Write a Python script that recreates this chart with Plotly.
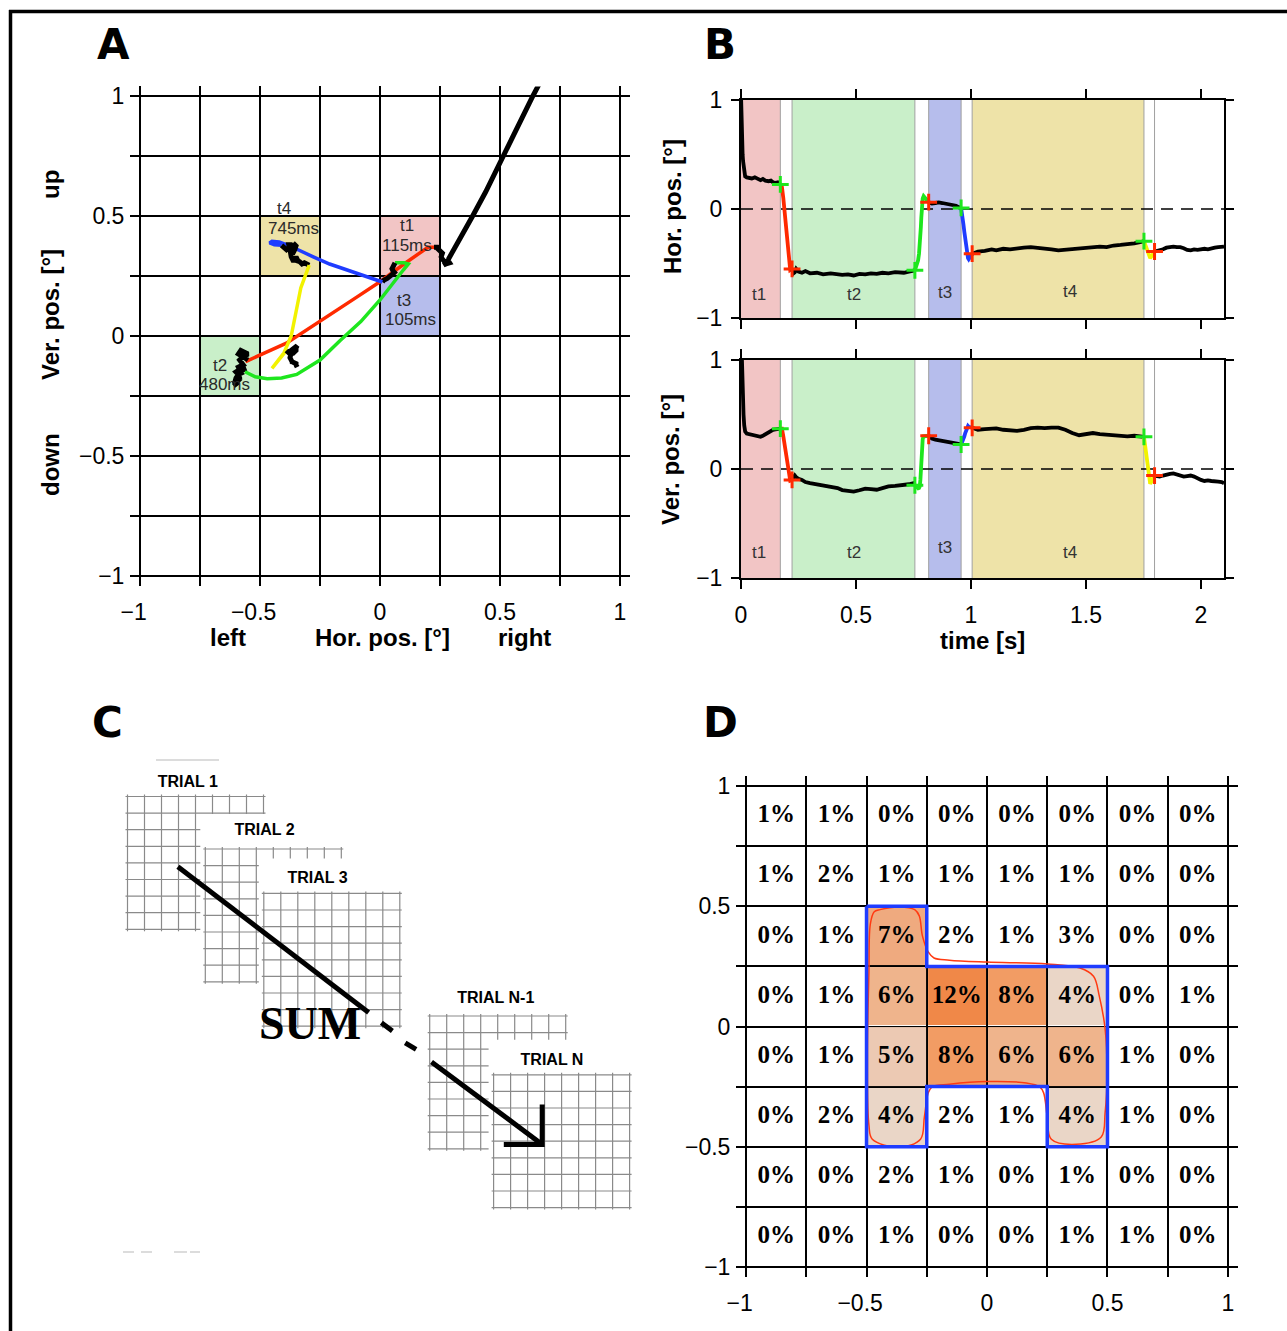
import plotly.graph_objects as go

W, H = 1287, 1331

# ---------------- Eye-position recording (time s, hor/ver position deg) ----------------
fix1_t = [0.000, 0.002, 0.003, 0.005, 0.007, 0.009, 0.011, 0.014, 0.018, 0.025, 0.035, 0.047,
          0.060, 0.072, 0.085, 0.095, 0.106, 0.120, 0.130, 0.139, 0.150, 0.160, 0.171]
fix1_hor = [1.05, 0.70, 0.637, 0.56, 0.50, 0.44, 0.386, 0.33, 0.30, 0.29, 0.285, 0.28,
            0.29, 0.275, 0.265, 0.275, 0.26, 0.255, 0.26, 0.245, 0.24, 0.245, 0.225]
fix1_ver = [1.30, 1.12, 1.00, 0.84, 0.72, 0.60, 0.50, 0.40, 0.345, 0.325, 0.32, 0.32,
            0.305, 0.30, 0.296, 0.305, 0.32, 0.33, 0.345, 0.36, 0.364, 0.37, 0.37]

sac1_t = [0.171, 0.178, 0.184, 0.189, 0.193, 0.197, 0.201, 0.205, 0.209, 0.214, 0.222]
sac1_hor = [0.225, 0.20, 0.10, 0.00, -0.10, -0.21, -0.30, -0.39, -0.48, -0.56, -0.55]
sac1_ver = [0.37, 0.37, 0.30, 0.226, 0.16, 0.0875, 0.025, -0.03, -0.07, -0.107, -0.10]

fix2_t = [0.222, 0.228, 0.234, 0.240, 0.250, 0.265, 0.280, 0.300, 0.330, 0.357, 0.390, 0.420, 0.440,
          0.465, 0.490, 0.515, 0.540, 0.565, 0.590, 0.615, 0.641, 0.670, 0.708, 0.730, 0.750, 0.756]
fix2_hor = [-0.55, -0.59, -0.58, -0.55, -0.575, -0.585, -0.57, -0.59, -0.585, -0.60, -0.59, -0.60, -0.605,
            -0.60, -0.61, -0.595, -0.60, -0.59, -0.595, -0.585, -0.59, -0.58, -0.585, -0.575, -0.57, -0.5625]
fix2_ver = [-0.10, -0.075, -0.06, -0.075, -0.09, -0.10, -0.12, -0.13, -0.14, -0.15, -0.16, -0.175, -0.193,
            -0.20, -0.208, -0.195, -0.18, -0.185, -0.19, -0.175, -0.16, -0.155, -0.15, -0.14, -0.13, -0.149]

sac2_t = [0.756, 0.764, 0.770, 0.774, 0.777, 0.780, 0.782, 0.784, 0.786, 0.788, 0.790, 0.794, 0.802, 0.816]
sac2_hor = [-0.5625, -0.52, -0.47, -0.41, -0.347, -0.25, -0.167, -0.08, 0.00, 0.06, 0.097, 0.118, 0.10, 0.0625]
sac2_ver = [-0.149, -0.17, -0.178, -0.175, -0.16, -0.10, -0.02, 0.06, 0.15, 0.23, 0.275, 0.30, 0.305, 0.305]

fix3_t = [0.816, 0.830, 0.845, 0.860, 0.875, 0.890, 0.905, 0.920, 0.935, 0.948, 0.957]
fix3_hor = [0.0625, 0.05, 0.055, 0.06, 0.055, 0.05, 0.045, 0.035, 0.03, 0.015, 0.01]
fix3_ver = [0.305, 0.28, 0.27, 0.265, 0.26, 0.255, 0.25, 0.245, 0.24, 0.232, 0.225]

sac3_t = [0.957, 0.963, 0.967, 0.971, 0.975, 0.978, 0.981, 0.984, 0.987, 0.990, 0.997, 1.005]
sac3_hor = [0.01, -0.06, -0.139, -0.21, -0.278, -0.33, -0.375, -0.42, -0.45, -0.46, -0.44, -0.41]
sac3_ver = [0.225, 0.25, 0.275, 0.30, 0.33, 0.355, 0.375, 0.392, 0.395, 0.388, 0.38, 0.378]

fix4_t = [1.005, 1.03, 1.06, 1.09, 1.11, 1.14, 1.17, 1.20, 1.23, 1.26, 1.29, 1.32, 1.35, 1.38,
          1.41, 1.44, 1.47, 1.50, 1.53, 1.56, 1.59, 1.62, 1.65, 1.68, 1.71, 1.735, 1.752]
fix4_hor = [-0.41, -0.39, -0.385, -0.37, -0.38, -0.365, -0.37, -0.36, -0.355, -0.35, -0.355, -0.36, -0.37, -0.38,
            -0.375, -0.37, -0.36, -0.355, -0.35, -0.345, -0.35, -0.335, -0.33, -0.325, -0.315, -0.305, -0.295]
fix4_ver = [0.378, 0.36, 0.365, 0.37, 0.373, 0.36, 0.355, 0.35, 0.36, 0.375, 0.38, 0.375, 0.38, 0.38,
            0.36, 0.33, 0.31, 0.32, 0.33, 0.32, 0.315, 0.31, 0.305, 0.30, 0.305, 0.30, 0.295]

sac4_t = [1.752, 1.758, 1.763, 1.768, 1.773, 1.779, 1.789, 1.798]
sac4_hor = [-0.295, -0.33, -0.35, -0.37, -0.40, -0.45, -0.42, -0.39]
sac4_ver = [0.295, 0.20, 0.10, 0.00, -0.07, -0.135, -0.10, -0.06]

fix5_t = [1.798, 1.82, 1.835, 1.85, 1.865, 1.88, 1.895, 1.91, 1.925, 1.94, 1.955,
          1.97, 1.985, 2.0, 2.015, 2.03, 2.045, 2.06, 2.075, 2.09, 2.1]
fix5_hor = [-0.39, -0.38, -0.37, -0.355, -0.35, -0.345, -0.35, -0.35, -0.36, -0.375, -0.38,
            -0.37, -0.375, -0.37, -0.365, -0.37, -0.36, -0.355, -0.35, -0.35, -0.345]
fix5_ver = [-0.06, -0.07, -0.06, -0.05, -0.045, -0.04, -0.05, -0.06, -0.07, -0.065, -0.06,
            -0.07, -0.09, -0.10, -0.11, -0.105, -0.11, -0.11, -0.115, -0.12, -0.13]

period_names = ["t1", "t2", "t3", "t4"]
period_ms = ["115ms", "480ms", "105ms", "745ms"]
# target squares in panel A (lower-left corner, deg) for t1..t4
box_x0 = [0.0, -0.75, 0.0, -0.5]
box_y0 = [0.25, -0.25, 0.0, 0.25]
box_size = 0.25

# ---------------- Panel D: percentage of time per grid cell ----------------
d_centers = [-0.875, -0.625, -0.375, -0.125, 0.125, 0.375, 0.625, 0.875]
d_pct = [
    [1, 1, 0, 0, 0, 0, 0, 0],
    [1, 2, 1, 1, 1, 1, 0, 0],
    [0, 1, 7, 2, 1, 3, 0, 0],
    [0, 1, 6, 12, 8, 4, 0, 1],
    [0, 1, 5, 8, 6, 6, 1, 0],
    [0, 2, 4, 2, 1, 4, 1, 0],
    [0, 0, 2, 1, 0, 1, 0, 0],
    [0, 0, 1, 0, 0, 1, 1, 0],
]
d_roi = [
    [0, 0, 0, 0, 0, 0, 0, 0],
    [0, 0, 0, 0, 0, 0, 0, 0],
    [0, 0, 1, 0, 0, 0, 0, 0],
    [0, 0, 1, 1, 1, 1, 0, 0],
    [0, 0, 1, 1, 1, 1, 0, 0],
    [0, 0, 1, 0, 0, 1, 0, 0],
    [0, 0, 0, 0, 0, 0, 0, 0],
    [0, 0, 0, 0, 0, 0, 0, 0],
]
roi_x = [-0.5, -0.25, -0.25, 0.5, 0.5, 0.25, 0.25, -0.25, -0.25, -0.5, -0.5]
roi_y = [0.5, 0.5, 0.25, 0.25, -0.5, -0.5, -0.25, -0.25, -0.5, -0.5, 0.5]
contour_x = [-0.444, -0.364, -0.30, -0.281, -0.268, -0.244, -0.22, -0.156, 0.0, 0.25, 0.386, 0.442,
             0.466, 0.49, 0.498, 0.49, 0.474, 0.37, 0.267, 0.25, 0.235, 0.219, 0.163, 0.0, -0.156,
             -0.228, -0.244, -0.26, -0.276, -0.364, -0.476, -0.49, -0.496, -0.49, -0.484, -0.468, -0.444]
contour_y = [0.486, 0.497, 0.486, 0.46, 0.377, 0.31, 0.285, 0.276, 0.268, 0.26, 0.243, 0.209,
             0.126, -0.008, -0.193, -0.36, -0.46, -0.49, -0.469, -0.377, -0.276, -0.251, -0.235, -0.229, -0.24,
             -0.251, -0.276, -0.377, -0.469, -0.502, -0.469, -0.41, -0.109, 0.226, 0.427, 0.477, 0.486]

# ---------------- Panel C: schematic (pixel coordinates) ----------------
trial_names = ["TRIAL 1", "TRIAL 2", "TRIAL 3", "TRIAL N-1", "TRIAL N"]
trial_left = [127.5, 205.3, 263.8, 429.7, 493.6]
trial_top = [796.5, 849.0, 893.4, 1016.0, 1074.8]
trial_label_x = [187.8, 264.5, 317.5, 495.8, 552.0]
trial_label_y = [783.2, 830.7, 879.0, 998.7, 1060.7]
n_cells = 8
cell_w, cell_h = 17.0, 16.6
sum_line_x = [177.9, 368.6]
sum_line_y = [866.8, 1012.4]
sum_dash_x = [381.4, 392.4, None, 405.2, 416.1]
sum_dash_y = [1022.7, 1031.0, None, 1042.8, 1049.3]
arrow_x = [431.5, 542.2, None, 542.2, 542.2, 503.8]
arrow_y = [1061.9, 1144.4, None, 1104.4, 1144.4, 1144.4]

# ---------------- styles ----------------
SANS = "Liberation Sans, Arial, sans-serif"
SERIF = "Liberation Serif, Times New Roman, serif"
C_RED, C_GREEN, C_BLUE, C_YEL = "#ff2a00", "#1ee61e", "#1f3cff", "#f2f200"
BOX_COLORS = ["#f2c5c5", "#c9efc9", "#b6bdec", "#eee3a8"]

segments = [
    (fix1_t, fix1_hor, fix1_ver, "black"),
    (sac1_t, sac1_hor, sac1_ver, C_RED),
    (fix2_t, fix2_hor, fix2_ver, "black"),
    (sac2_t, sac2_hor, sac2_ver, C_GREEN),
    (fix3_t, fix3_hor, fix3_ver, "black"),
    (sac3_t, sac3_hor, sac3_ver, C_BLUE),
    (fix4_t, fix4_hor, fix4_ver, "black"),
    (sac4_t, sac4_hor, sac4_ver, C_YEL),
    (fix5_t, fix5_hor, fix5_ver, "black"),
]
saccades = [s for s in segments if s[3] != "black"]

fig = go.Figure()

# ---------- Panel A ----------
for t, hx, vy, col in segments:
    fig.add_trace(go.Scatter(x=hx, y=vy, mode="lines", xaxis="x", yaxis="y",
                             line=dict(color=col, width=5 if col == "black" else 3.5),
                             hoverinfo="skip", showlegend=False))

# ---------- Panel B ----------
for row, (xa, ya) in enumerate([("x2", "y2"), ("x3", "y3")]):
    for t, hx, vy, col in segments:
        vals = hx if row == 0 else vy
        fig.add_trace(go.Scatter(x=t, y=vals, mode="lines", xaxis=xa, yaxis=ya,
                                 line=dict(color=col, width=3.8), hoverinfo="skip", showlegend=False))
    st_t = [s[0][0] for s in saccades]
    st_v = [(s[1] if row == 0 else s[2])[0] for s in saccades]
    en_t = [s[0][-1] for s in saccades]
    en_v = [(s[1] if row == 0 else s[2])[-1] for s in saccades]
    fig.add_trace(go.Scatter(x=st_t, y=st_v, mode="markers", xaxis=xa, yaxis=ya,
                             marker=dict(symbol="cross-thin", size=12, line=dict(color=C_GREEN, width=3)),
                             hoverinfo="skip", showlegend=False))
    fig.add_trace(go.Scatter(x=en_t, y=en_v, mode="markers", xaxis=xa, yaxis=ya,
                             marker=dict(symbol="cross-thin", size=12, line=dict(color=C_RED, width=3)),
                             hoverinfo="skip", showlegend=False))

# ---------- Panel C ----------
for i, name in enumerate(trial_names):
    L, T = trial_left[i], trial_top[i]
    R, B = L + n_cells * cell_w, T + n_cells * cell_h
    if i > 0:
        fig.add_trace(go.Scatter(x=[L - 5, R + 4, R + 4, L - 5, L - 5],
                                 y=[T - 35, T - 35, B + 4, B + 4, T - 35],
                                 mode="lines", fill="toself", fillcolor="white",
                                 line=dict(width=0, color="white"), xaxis="x4", yaxis="y4",
                                 hoverinfo="skip", showlegend=False))
    gx, gy = [], []
    for k in range(n_cells + 1):
        xk = L + k * cell_w
        gx += [xk, xk, None]
        gy += [T - 2, B + 2, None]
        yk = T + k * cell_h
        gx += [L - 2, R + 2, None]
        gy += [yk, yk, None]
    fig.add_trace(go.Scatter(x=gx, y=gy, mode="lines", xaxis="x4", yaxis="y4",
                             line=dict(color="#8a8a8a", width=1.2), hoverinfo="skip", showlegend=False))

fig.add_trace(go.Scatter(x=trial_label_x, y=trial_label_y, text=trial_names, mode="text",
                         textfont=dict(family=SANS, size=16, color="black", weight="bold"),
                         xaxis="x4", yaxis="y4", hoverinfo="skip", showlegend=False))
fig.add_trace(go.Scatter(x=[156, 219, None, 123, 134, None, 141, 152, None, 174, 187, None, 190, 200],
                         y=[760, 760, None, 1252, 1252, None, 1252, 1252, None, 1252, 1252, None, 1252, 1252],
                         mode="lines", line=dict(color="#d0d0d0", width=1.5), xaxis="x4", yaxis="y4",
                         hoverinfo="skip", showlegend=False))
for xs, ys in [(sum_line_x, sum_line_y), (sum_dash_x, sum_dash_y), (arrow_x, arrow_y)]:
    fig.add_trace(go.Scatter(x=xs, y=ys, mode="lines", xaxis="x4", yaxis="y4",
                             line=dict(color="black", width=5), hoverinfo="skip", showlegend=False))
fig.add_trace(go.Scatter(x=[310], y=[1027], text=["SUM"], mode="text",
                         textfont=dict(family=SERIF, size=46, color="black", weight="bold"),
                         xaxis="x4", yaxis="y4", hoverinfo="skip", showlegend=False))

# ---------- Panel D ----------
z_roi = [[d_pct[r][c] if d_roi[r][c] else None for c in range(8)] for r in range(8)]
fig.add_trace(go.Heatmap(x=d_centers, y=d_centers[::-1], z=z_roi, zmin=4, zmax=12,
                         colorscale=[[0, "#ead6c7"], [0.125, "#ecc9b3"], [0.25, "#efb48c"],
                                     [0.375, "#efaa7f"], [0.5, "#f29c64"], [1, "#f08848"]],
                         showscale=False, xgap=2, ygap=2, hoverinfo="skip", xaxis="x5", yaxis="y5"))
tx, ty, tt = [], [], []
for r in range(8):
    for c in range(8):
        tx.append(d_centers[c])
        ty.append(d_centers[::-1][r])
        tt.append(f"{d_pct[r][c]}%")
fig.add_trace(go.Scatter(x=tx, y=ty, text=tt, mode="text", xaxis="x5", yaxis="y5",
                         textfont=dict(family=SERIF, size=25, color="black", weight="bold"),
                         hoverinfo="skip", showlegend=False))
fig.add_trace(go.Scatter(x=contour_x, y=contour_y, mode="lines", line=dict(color="#ff3a12", width=1.5, shape="spline"),
                         xaxis="x5", yaxis="y5", hoverinfo="skip", showlegend=False))
fig.add_trace(go.Scatter(x=roi_x, y=roi_y, mode="lines", line=dict(color=C_BLUE, width=3.5),
                         xaxis="x5", yaxis="y5", hoverinfo="skip", showlegend=False))

# ---------- shapes ----------
shapes = []
for i in range(4):
    shapes.append(dict(type="rect", xref="x", yref="y", x0=box_x0[i], x1=box_x0[i] + box_size,
                       y0=box_y0[i], y1=box_y0[i] + box_size, fillcolor=BOX_COLORS[i],
                       line=dict(width=0), layer="below"))
band_start = [0.0] + [s[0][-1] for s in saccades[:3]]
band_end = [s[0][0] for s in saccades]
for xa, ya in [("x2", "y2"), ("x3", "y3")]:
    for i in range(4):
        shapes.append(dict(type="rect", xref=xa, yref=ya, x0=band_start[i], x1=band_end[i], y0=-1, y1=1,
                           fillcolor=BOX_COLORS[i], line=dict(width=0), layer="below"))
    for s in saccades:
        for tv in (s[0][0], s[0][-1]):
            shapes.append(dict(type="line", xref=xa, yref=ya, x0=tv, x1=tv, y0=-1, y1=1,
                               line=dict(color="#a0a0a0", width=1), layer="below"))
    shapes.append(dict(type="line", xref=xa, yref=ya, x0=0, x1=2.1, y0=0, y1=0,
                       line=dict(color="black", width=1.3, dash="12px,8px"), layer="below"))
# outer frame of the figure
shapes.append(dict(type="line", xref="paper", yref="paper", x0=10.5 / W, x1=10.5 / W, y0=0, y1=1 - 10 / H,
                   line=dict(color="black", width=3.5)))
shapes.append(dict(type="line", xref="paper", yref="paper", x0=9 / W, x1=1, y0=1 - 11.5 / H, y1=1 - 11.5 / H,
                   line=dict(color="black", width=3.5)))

# ---------- annotations ----------
ann = []
def pann(text, px, py, size, bold=False, angle=0, family=SANS, color="black"):
    ann.append(dict(text=f"<b>{text}</b>" if bold else text, x=px / W, y=1 - py / H, xref="paper", yref="paper",
                    showarrow=False, textangle=angle, xanchor="center", yanchor="middle",
                    font=dict(family=family, size=size, color=color)))

for letter, px, py in [("A", 113, 44), ("B", 720, 44), ("C", 107, 722), ("D", 720, 722)]:
    pann(letter, px, py, 42, bold=True, family="DejaVu Sans, sans-serif")
pann("Ver. pos. [°]", 50, 315, 24, bold=True, angle=-90)
pann("up", 50, 185, 24, bold=True, angle=-90)
pann("down", 50, 465, 24, bold=True, angle=-90)
pann("left", 228, 637, 24, bold=True)
pann("Hor. pos. [°]", 382, 637, 24, bold=True)
pann("right", 524, 637, 24, bold=True)
pann("Hor. pos. [°]", 672, 207, 24, bold=True, angle=-90)
pann("Ver. pos. [°]", 670, 460, 24, bold=True, angle=-90)
pann("time [s]", 982, 640, 24, bold=True)

a_name_xy = [(0.111, 0.4625), (-0.667, -0.121), (0.10, 0.15), (-0.40, 0.532)]
a_ms_xy = [(0.111, 0.379), (-0.646, -0.204), (0.125, 0.07), (-0.361, 0.449)]
for i in range(4):
    for (xx, yy), txt in [(a_name_xy[i], period_names[i]), (a_ms_xy[i], period_ms[i])]:
        ann.append(dict(text=txt, x=xx, y=yy, xref="x", yref="y", showarrow=False,
                        font=dict(family=SANS, size=17, color="#2a2a2a")))
b_label_x = [0.08, 0.49, 0.885, 1.43]
for xa, ya, yl in [("x2", "y2", [-0.78, -0.78, -0.77, -0.76]), ("x3", "y3", [-0.77, -0.77, -0.72, -0.77])]:
    for i in range(4):
        ann.append(dict(text=period_names[i], x=b_label_x[i], y=yl[i], xref=xa, yref=ya, showarrow=False,
                        font=dict(family=SANS, size=17, color="#333333")))

# ---------- axes ----------
grid_vals = [-1, -0.75, -0.5, -0.25, 0, 0.25, 0.5, 0.75, 1]
grid_text_y = ["−1", "", "−0.5", "", "0", "", "0.5", "", "1"]
NB = "\u00a0\u00a0"
grid_text_x = ["−1" + NB, "", "−0.5" + NB, "", "0", "", "0.5", "", "1"]
tickfont = dict(family=SANS, size=23, color="black")

def grid_axis(domain, anchor, standoff, labels):
    return dict(domain=domain, anchor=anchor, range=[-1.04, 1.04], tickvals=grid_vals, ticktext=labels,
                showgrid=True, gridcolor="black", gridwidth=2, zeroline=False, showline=False,
                ticks="", tickfont=tickfont, ticklabelstandoff=standoff, fixedrange=True, automargin=False)

def time_axis(domain, anchor, labels):
    return dict(domain=domain, anchor=anchor, range=[0, 2.1], tickvals=[0, 0.5, 1, 1.5, 2],
                ticktext=["0", "0.5", "1", "1.5", "2"], showticklabels=labels, ticks="outside",
                ticklen=9, tickwidth=2, tickcolor="black", showline=True, linecolor="black", linewidth=2,
                mirror="ticks", showgrid=False, zeroline=False, tickfont=tickfont, ticklabelstandoff=6,
                automargin=False)

def pos_axis(domain, anchor):
    return dict(domain=domain, anchor=anchor, range=[-1, 1], tickvals=[-1, 0, 1], ticktext=["−1", "0", "1"],
                ticks="outside", ticklen=8, tickwidth=2, tickcolor="black", showline=True, linecolor="black",
                linewidth=2, mirror="ticks", showgrid=False, zeroline=False, tickfont=tickfont,
                ticklabelstandoff=4, automargin=False)

fig.update_layout(
    width=W, height=H, autosize=False,
    margin=dict(l=0, r=0, t=0, b=0, pad=0, autoexpand=False),
    paper_bgcolor="white", plot_bgcolor="rgba(0,0,0,0)", showlegend=False,
    xaxis=grid_axis([130.4 / W, 629.6 / W], "y", 10, grid_text_x),
    yaxis=grid_axis([1 - 585.6 / H, 1 - 86.4 / H], "x", 5, grid_text_y),
    xaxis2=time_axis([741 / W, 1224 / W], "y2", False),
    yaxis2=pos_axis([1 - 318 / H, 1 - 100 / H], "x2"),
    xaxis3=time_axis([741 / W, 1224 / W], "y3", True),
    yaxis3=pos_axis([1 - 578 / H, 1 - 360 / H], "x3"),
    xaxis4=dict(domain=[0, 0.5], anchor="y4", range=[0, 643.5], visible=False, fixedrange=True),
    yaxis4=dict(domain=[0, 0.5], anchor="x4", range=[1331, 665.5], visible=False, fixedrange=True),
    xaxis5=grid_axis([736.4 / W, 1237.6 / W], "y5", 10, grid_text_x),
    yaxis5=grid_axis([1 - 1276.6 / H, 1 - 776.4 / H], "x5", 5, grid_text_y),
    shapes=shapes, annotations=ann,
)

fig.write_html("out.html", config={"displayModeBar": False},
               post_script="document.body.style.margin='0';document.body.style.padding='0';")
